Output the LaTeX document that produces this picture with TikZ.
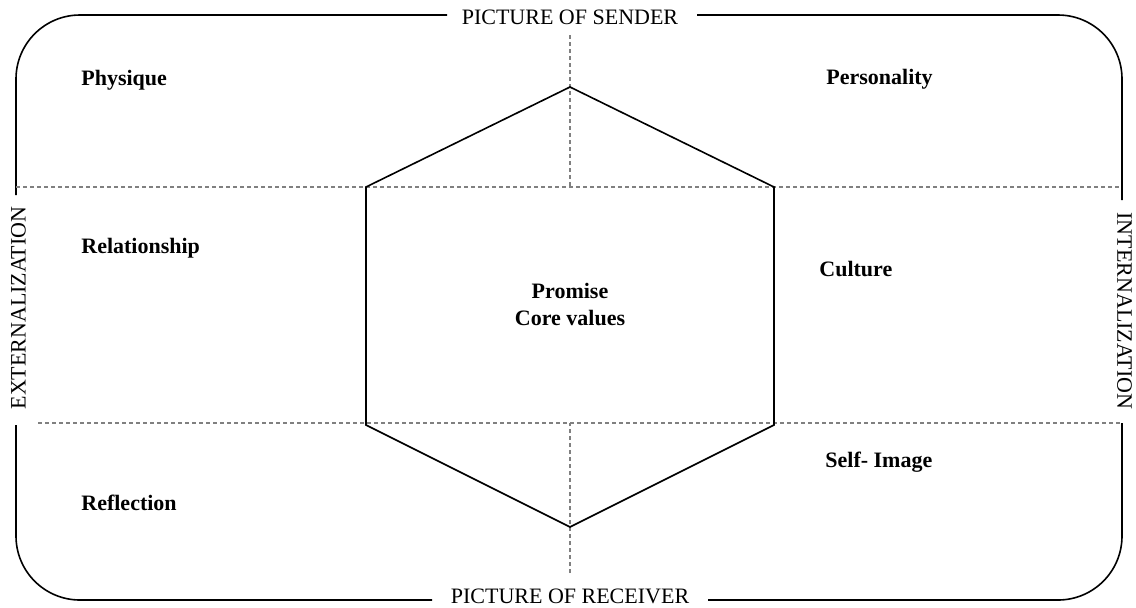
\documentclass[tikz,border=0pt]{standalone}
\usepackage{fontspec}
\setmainfont{Liberation Serif}
\usetikzlibrary{positioning}
\tikzset{
  frame/.style={line width=0.8pt, rounded corners=32pt},
  guide/.style={gray, line width=0.6pt, dash pattern=on 2pt off 1.5pt},
  hexline/.style={line width=0.8pt, line join=miter},
  facet/.style={font=\fontsize{11}{13.5}\selectfont\bfseries, anchor=base west, inner sep=0pt},
  caption/.style={font=\fontsize{11}{13}\selectfont, inner sep=0pt},
}

\begin{document}
\begin{tikzpicture}[x=0.5pt, y=-0.5pt]
  \useasboundingbox (0,0) rectangle (1136,607);
  % outer frame, broken for the captions
  \draw[frame] (16,195) -- (16,15) -- (447,15);
  \draw[frame] (697,15) -- (1122,15) -- (1122,200);
  \draw[frame] (16,425) -- (16,600) -- (432,600);
  \draw[frame] (708,600) -- (1122,600) -- (1122,423);
  % captions
  \node[caption] (sender) at (570,17) {PICTURE OF SENDER};
  \node[caption] (receiver) at (570,596) {PICTURE OF RECEIVER};
  \node[caption, rotate=90] (extern) at (18.5,308) {EXTERNALIZATION};
  \node[caption, rotate=-90] (intern) at (1124.5,311) {INTERNALIZATION};
  % dashed guides
  \coordinate (gtop) at (570,35);
  \coordinate (gbot) at (570,573);
  \coordinate (hl1) at (16,187);
  \coordinate (hr1) at (1122,187);
  \coordinate (hl2) at (38,423);
  \coordinate (hr2) at (1122,423);
  \draw[guide] (hl1) -- (hr1);
  \draw[guide] (hl2) -- (hr2);
  \draw[guide] (gtop) -- (gtop |- hl1);
  \draw[guide] (gbot) -- (gbot |- hl2);
  % hexagon
  \coordinate (hxt) at (570,87);
  \coordinate (hxur) at (774,187);
  \coordinate (hxlr) at (774,425);
  \coordinate (hxb) at (570,527);
  \coordinate (hxll) at (366,425);
  \coordinate (hxul) at (366,187);
  \draw[hexline] (hxt) -- (hxur) -- (hxlr) -- (hxb) -- (hxll) -- (hxul) -- cycle;
  \node[font=\fontsize{11}{13.5}\selectfont\bfseries, align=center, inner sep=0pt] (core) at (570,304) {Promise\\Core values};
  % facets
  \node[facet] (physique) at (81,85) {Physique};
  \node[facet] (personality) at (826,84) {Personality};
  \node[facet] (relation) at (81,253) {Relationship};
  \node[facet] (culture) at (819,276) {Culture};
  \node[facet] (selfimage) at (825,467) {Self- Image};
  \node[facet] (reflection) at (81,510) {Reflection};
\end{tikzpicture}
\end{document}
